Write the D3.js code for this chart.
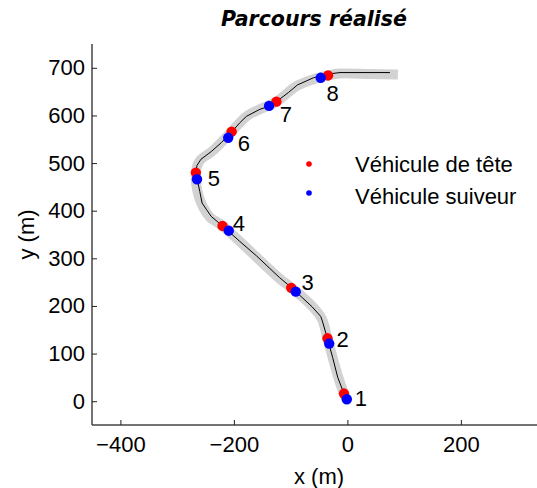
<!DOCTYPE html>
<html><head><meta charset="utf-8">
<script src="https://cdn.jsdelivr.net/npm/d3@7"></script>
<style>body{margin:0;background:#fff;font-family:"Liberation Sans",Arial,sans-serif;}</style>
</head><body><svg id="c" width="537" height="488"></svg>
<script>
// Road centerline (m)
const roadX = [0, -6, -16, -35, -45, -60, -99, -119, -220, -242, -254, -263, -267, -260, -237, -204, -177, -154, -125, -89, -60, -34, -13, 40, 89];
const roadY = [0, 16, 50, 131, 173, 197, 239, 257, 368, 386, 407, 435, 480, 505, 526, 566, 599, 613, 629, 662, 676, 684, 688, 687, 686];
// Realised trajectory (m)
const trajX = [0, -6, -17, -26, -35, -44, -47, -62, -80, -99, -120, -160, -190, -220, -240, -248, -256, -260, -264, -267, -265, -258, -240, -222, -204, -190, -178, -154, -136, -125, -104, -88, -60, -34, -13, 75];
const trajY = [0, 16, 50, 92, 131, 168, 178, 198, 218, 239, 260, 305, 336, 368, 388, 402, 416, 440, 462, 480, 495, 508, 524, 543, 565, 584, 598, 613, 620, 629, 648, 664, 679, 687, 690, 690];
// Leading vehicle (red) and following vehicle (blue) positions
const leadX = [-6, -35, -99, -220, -267, -204, -125, -34];
const leadY = [16, 132, 238, 368, 480, 566, 629, 684];
const follX = [-1, -32, -91, -209, -265, -210, -138, -47];
const follY = [4, 121, 230, 358, 466, 553, 620, 679];
// Point labels
const labelTxt = ["1", "2", "3", "4", "5", "6", "7", "8"];
const labelX = [13, -19, -81, -202, -246, -193, -119, -37];
const labelY = [6, 131, 251, 373, 469, 543, 603, 647];
const xTicks = [-400, -200, 0, 200];
const yTicks = [0, 100, 200, 300, 400, 500, 600, 700];
const legendLabels = ["Véhicule de tête", "Véhicule suiveur"];
const legendColors = ["#ff0000", "#0000ff"];

const svg = d3.select("#c");
const L = 92, R = 546, T = 44, B = 425;
const FS = 22;
const x = d3.scaleLinear().domain([-450, 350]).range([L, R]);
const y = d3.scaleLinear().domain([-50, 750]).range([B, T]);

// road
const road = roadX.map((v, i) => [v, roadY[i]]);
svg.append("path").datum(road)
  .attr("d", d3.line().x(d => x(d[0])).y(d => y(d[1])).curve(d3.curveCatmullRom))
  .attr("fill", "none").attr("stroke", "#d2d2d2").attr("stroke-width", 10)
  .attr("stroke-linecap", "butt").attr("stroke-linejoin", "round");
// trajectory
const traj = trajX.map((v, i) => [v, trajY[i]]);
svg.append("path").datum(traj)
  .attr("d", d3.line().x(d => x(d[0])).y(d => y(d[1])))
  .attr("fill", "none").attr("stroke", "#000").attr("stroke-width", 1);

// vehicles
svg.append("g").selectAll("circle").data(leadX.map((v, i) => [v, leadY[i]])).join("circle")
  .attr("cx", d => x(d[0])).attr("cy", d => y(d[1])).attr("r", 5.2).attr("fill", "#ff0000");
svg.append("g").selectAll("circle").data(follX.map((v, i) => [v, follY[i]])).join("circle")
  .attr("cx", d => x(d[0])).attr("cy", d => y(d[1])).attr("r", 5.2).attr("fill", "#0000ff");

// labels
svg.append("g").selectAll("text").data(labelTxt).join("text")
  .attr("x", (d, i) => x(labelX[i])).attr("y", (d, i) => y(labelY[i]))
  .attr("dy", "0.36em").attr("font-size", FS).attr("fill", "#000").text(d => d);

// axes
const xAxis = d3.axisBottom(x).tickValues(xTicks).tickSize(-5).tickPadding(11).tickFormat(d3.format("d"));
const gx = svg.append("g").attr("transform", `translate(0,${B})`).call(xAxis);
const yAxis = d3.axisLeft(y).tickValues(yTicks).tickSize(-5).tickPadding(7).tickFormat(d3.format("d"));
const gy = svg.append("g").attr("transform", `translate(${L},0)`).call(yAxis);
[gx, gy].forEach(g => {
  g.select(".domain").attr("stroke", "#444").attr("stroke-width", 1.5);
  g.selectAll(".tick line").attr("stroke", "#222");
  g.selectAll(".tick text").attr("font-size", FS).attr("fill", "#000")
    .attr("font-family", "'Liberation Sans',Arial,sans-serif");
});
gy.select(".domain").attr("d", `M0,${T}V${B}`);
gx.select(".domain").attr("d", `M${L},0H${R}`);

// axis titles
svg.append("text").attr("x", (L + R) / 2).attr("y", 484).attr("text-anchor", "middle")
  .attr("font-size", FS).text("x (m)");
svg.append("text").attr("transform", `translate(34,${(T + B) / 2}) rotate(-90)`).attr("text-anchor", "middle")
  .attr("font-size", FS).text("y (m)");
// title
svg.append("text").attr("x", 314).attr("y", 26).attr("text-anchor", "middle")
  .attr("font-family", "'DejaVu Sans',sans-serif")
  .attr("font-size", 20.5).attr("font-weight", "bold").attr("font-style", "italic")
  .text("Parcours réalisé");

// legend
const lg = svg.append("g");
legendLabels.forEach((t, i) => {
  lg.append("circle").attr("cx", 309).attr("cy", 164 + i * 29).attr("r", 2.8).attr("fill", legendColors[i]);
  lg.append("text").attr("x", 355).attr("y", 172 + i * 31.5).attr("font-size", FS).text(t);
});
</script></body></html>
